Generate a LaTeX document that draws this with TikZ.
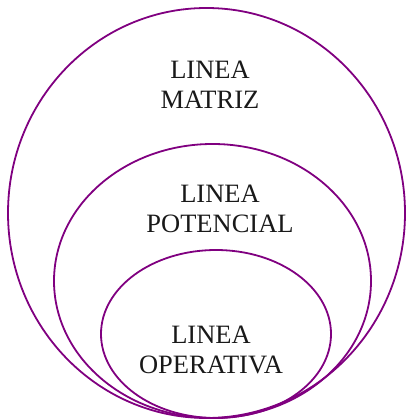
\documentclass[tikz,border=0pt]{standalone}
\usepackage{fontspec}
\setmainfont{Liberation Serif}
\usetikzlibrary{shapes.geometric}
\definecolor{ringpurple}{RGB}{128,0,128}
\begin{document}
\begin{tikzpicture}[x=1pt,y=-1pt,
  ring/.style={ellipse, draw=ringpurple, line width=1.8pt, inner sep=0pt},
  lbl/.style={font=\fontsize{26.5}{30}\selectfont, align=center, inner sep=0pt, text=black!90}]
\useasboundingbox (0,0) rectangle (406,419);
\node[ring, minimum width=397pt, minimum height=410pt] (outer) at (206.5,213) {};
\node[ring, minimum width=317pt, minimum height=274pt] (middle) at (212.5,281) {};
\node[ring, minimum width=230pt, minimum height=168pt] (inner) at (216,334) {};
\node[lbl] (matriz) at (210,85) {LINEA\\MATRIZ};
\node[lbl] (potencial) at (220,209) {LINEA\\POTENCIAL};
\node[lbl] (operativa) at (211,350) {LINEA\\OPERATIVA};
\end{tikzpicture}
\end{document}
